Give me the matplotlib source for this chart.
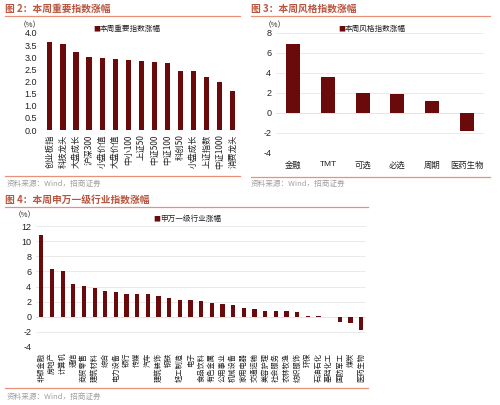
import matplotlib
matplotlib.use("Agg")
import matplotlib.pyplot as plt
import numpy as np

plt.rcParams['font.family'] = ['Noto Sans CJK SC', 'DejaVu Sans']

# ---------------- data ----------------
idx_names = ["创业板指", "科技龙头", "大盘成长", "沪深300", "小盘价值", "大盘价值", "中小100",
             "上证50", "中证500", "中证100", "科创50", "小盘成长", "上证指数", "中证1000", "消费龙头"]
idx_vals = [3.62, 3.55, 3.20, 3.02, 2.95, 2.93, 2.90, 2.85, 2.80, 2.78, 2.45, 2.45, 2.20, 1.97, 1.62]

style_names = ["金融", "TMT", "可选", "必选", "周期", "医药生物"]
style_vals = [6.9, 3.6, 2.0, 1.9, 1.2, -1.8]

ind_names = ["非银金融", "房地产", "计算机", "通信", "商贸零售", "建筑材料", "综合", "电力设备",
             "银行", "传媒", "汽车", "建筑装饰", "钢铁", "轻工制造", "电子", "食品饮料", "有色金属",
             "公用事业", "机械设备", "家用电器", "交通运输", "美容护理", "社会服务", "农林牧渔",
             "纺织服饰", "环保", "石油石化", "基础化工", "国防军工", "煤炭", "医药生物"]
ind_vals = [10.8, 6.3, 6.1, 4.3, 4.1, 3.8, 3.35, 3.25, 3.05, 3.05, 2.95, 2.7, 2.45, 2.15, 2.15,
            2.05, 1.8, 1.7, 1.55, 1.1, 1.0, 0.8, 0.75, 0.7, 0.65, 0.1, 0.05, 0.0, -0.7, -0.8, -1.8]

titles = ["图 2：本周重要指数涨幅", "图 3：本周风格指数涨幅", "图 4：本周申万一级行业指数涨幅"]
legends = ["本周重要指数涨幅", "本周风格指数涨幅", "申万一级行业涨幅"]
source = "资料来源：Wind，招商证券"

W, H = 500, 405
BAR = "#6b0a0a"
TITLE_C = "#b8553f"
LINE_C = "#e8907a"
GRID_C = "#e6e6e6"
SRC_C = "#a0a0a0"
TXT = "#222222"

fig = plt.figure(figsize=(W / 100, H / 100), dpi=100)
fig.patch.set_facecolor("white")


def px_axes(x0, y0, x1, y1):
    return fig.add_axes([x0 / W, 1 - y1 / H, (x1 - x0) / W, (y1 - y0) / H])


def ftext(x, y, s, **kw):
    fig.text(x / W, 1 - y / H, s, **kw)


def hline(x0, x1, y, color, lw=1.0):
    fig.add_artist(plt.Line2D([x0 / W, x1 / W], [1 - y / H, 1 - y / H], color=color, lw=lw))


def style_ax(ax):
    for s in ax.spines.values():
        s.set_visible(False)
    ax.tick_params(axis='both', length=0, labelsize=6.5, colors=TXT)
    for lab in ax.get_yticklabels():
        lab.set_fontfamily(['Liberation Sans', 'DejaVu Sans'])


def legend(ax, x, y, label):
    ftext(x, y, "■", fontsize=5, color=BAR, va='center', ha='left')
    ftext(x + 7, y, label, fontsize=5.5, color=TXT, va='center', ha='left')


# ---------------- titles / frame lines ----------------
ftext(5, 9, titles[0], fontsize=7, color=TITLE_C, va='center', ha='left', fontweight='bold')
hline(5, 240, 16, LINE_C, 0.9)
ftext(251, 9, titles[1], fontsize=7, color=TITLE_C, va='center', ha='left', fontweight='bold')
hline(251, 490, 16, LINE_C, 0.9)
ftext(5, 200, titles[2], fontsize=7, color=TITLE_C, va='center', ha='left', fontweight='bold')
hline(5, 368, 207, LINE_C, 0.9)

hline(5, 240, 176, LINE_C, 0.9)
ftext(7, 184, source, fontsize=5.5, color=SRC_C, va='center', ha='left')
hline(251, 490, 177, LINE_C, 0.9)
ftext(251, 184, source, fontsize=5.5, color=SRC_C, va='center', ha='left')
hline(5, 368, 388, LINE_C, 0.9)
ftext(7, 397, source, fontsize=5.5, color=SRC_C, va='center', ha='left')

# ---------------- Fig 2 ----------------
ax1 = px_axes(42, 33, 240, 130)
x1 = np.arange(len(idx_names))
ax1.bar(x1, idx_vals, width=0.4, color=BAR)
ax1.set_xlim(-0.6, 14.55)
ax1.set_ylim(0, 4.0)
ax1.set_yticks(np.arange(0, 4.01, 0.5))
ax1.set_yticklabels([f"{v:.1f}" for v in np.arange(0, 4.01, 0.5)])
ax1.set_xticks(x1)
ax1.set_xticklabels(idx_names, rotation=90, va='top')
style_ax(ax1)
ax1.tick_params(axis='x', labelsize=6, pad=3)
ax1.axhline(0, color="#d9d9d9", lw=0.6)
ftext(30, 25, "（%）", fontsize=5.5, color=TXT, va='center', ha='center')
legend(ax1, 93, 29, legends[0])

# ---------------- Fig 3 ----------------
ax2 = px_axes(276, 33, 484, 153)
x2 = np.arange(len(style_names))
ax2.bar(x2, style_vals, width=0.4, color=BAR, zorder=3)
ax2.set_xlim(-0.5, 5.5)
ax2.set_ylim(-4, 8)
ax2.set_yticks(np.arange(-4, 8.1, 2))
ax2.set_yticklabels([f"{int(v)}" for v in np.arange(-4, 8.1, 2)])
ax2.yaxis.grid(True, color=GRID_C, lw=0.6, zorder=0)
ax2.axhline(0, color="#c8c8c8", lw=0.7, ls=(0, (2, 2)), zorder=1)
ax2.set_xticks(x2)
ax2.set_xticklabels(style_names)
style_ax(ax2)
ax2.tick_params(axis='x', labelsize=6, pad=6)
for lab in ax2.get_xticklabels():
    if lab.get_text() == "TMT":
        lab.set_fontfamily(['Liberation Sans', 'DejaVu Sans'])
ftext(275, 25, "（%）", fontsize=5.5, color=TXT, va='center', ha='center')
legend(ax2, 338, 29, legends[1])

# ---------------- Fig 4 ----------------
ax3 = px_axes(36, 226, 366, 347)
x3 = np.arange(len(ind_names))
ax3.bar(x3, ind_vals, width=0.4, color=BAR, zorder=3)
ax3.set_xlim(-0.5, 30.45)
ax3.set_ylim(-4, 12)
ax3.set_yticks(np.arange(-4, 12.1, 2))
ax3.set_yticklabels([f"{int(v)}" for v in np.arange(-4, 12.1, 2)])
ax3.yaxis.grid(True, color=GRID_C, lw=0.6, zorder=0)
ax3.axhline(0, color="#c8c8c8", lw=0.7, ls=(0, (2, 2)), zorder=1)
ax3.set_xticks(x3)
ax3.set_xticklabels(ind_names, rotation=90, va='top')
style_ax(ax3)
ax3.tick_params(axis='x', labelsize=5.2, pad=4)
ftext(25, 215, "（%）", fontsize=5.5, color=TXT, va='center', ha='center')
legend(ax3, 153, 219, legends[2])

fig.savefig("out.png", dpi=100, facecolor="white")
